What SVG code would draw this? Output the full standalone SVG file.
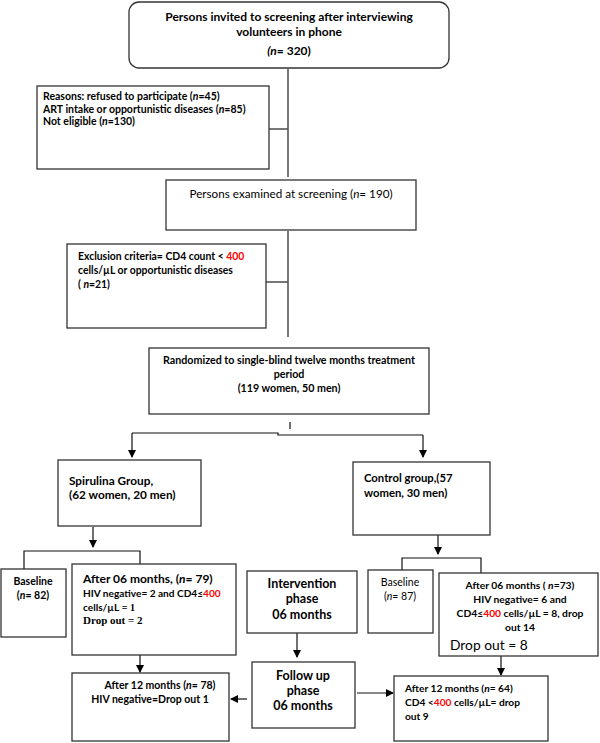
<svg xmlns="http://www.w3.org/2000/svg" width="600" height="743" viewBox="0 0 600 743">
<defs>
<marker id="ah" markerWidth="8" markerHeight="8" refX="7" refY="4" orient="auto" markerUnits="userSpaceOnUse">
<path d="M0,0 L8,4 L0,8 Z" fill="#000"/>
</marker>
</defs>
<style>
.box{fill:#fff;stroke:#333;stroke-width:1.3}
.ln{fill:none;stroke:#111;stroke-width:1.2}
.gl{fill:none;stroke:#555;stroke-width:1.6}
text{font-family:Lato,"Liberation Sans",sans-serif;fill:#000}
.b{font-weight:bold}
.r{font-weight:normal}
.i{font-style:italic}
.red{fill:#ff0000}
.c{text-anchor:middle}
.serif{font-family:"Liberation Serif",serif}
</style>
<rect width="600" height="743" fill="#fff"/>

<g id="connectors">
<path class="gl" d="M288,69 V177"/>
<path class="gl" d="M269,129 H288"/>
<path class="gl" d="M288,231 V337"/>
<path class="gl" d="M266,282 H288"/>
<path class="ln" d="M290,422 V429"/>
<path class="ln" d="M132,433 H278 V435 H423"/>
<path class="ln" d="M132,433 V457" marker-end="url(#ah)"/>
<path class="ln" d="M423,435 V457" marker-end="url(#ah)"/>
<path class="ln" d="M93,527 V547" marker-end="url(#ah)"/>
<path class="ln" d="M24,569 V551 H140 V564"/>
<path class="ln" d="M438,535 V554" marker-end="url(#ah)"/>
<path class="ln" d="M402,570 V558 H481 V573"/>
<path class="ln" d="M140,655 V672" marker-end="url(#ah)"/>
<path class="ln" d="M297,633 V657" marker-end="url(#ah)"/>
<path class="ln" d="M247,699 H231" marker-end="url(#ah)"/>
<path class="ln" d="M357,693 H393" marker-end="url(#ah)"/>
<path class="ln" d="M501,656 V675" marker-end="url(#ah)"/>
</g>

<g id="invited">
<rect class="box" x="129" y="2" width="320" height="66" rx="10"/>
<text class="b c" x="289" y="21" font-size="12">Persons invited to screening after interviewing</text>
<text class="b c" x="289" y="36" font-size="12">volunteers in phone</text>
<text class="b c" x="289" y="55" font-size="12"><tspan class="i">(n</tspan>= 320)</text>
</g>

<g id="reasons">
<rect class="box" x="37" y="86" width="232" height="83"/>
<text class="b" x="43" y="100" font-size="10.5">Reasons: refused to participate (<tspan class="i">n</tspan>=45)</text>
<text class="b" x="43" y="112.5" font-size="10.5">ART intake or opportunistic diseases (<tspan class="i">n</tspan>=85)</text>
<text class="b" x="43" y="125" font-size="10.5">Not eligible (<tspan class="i">n</tspan>=130)</text>
</g>

<g id="screening">
<rect class="box" x="166" y="180" width="250" height="50"/>
<text class="r c" x="291" y="198" font-size="11.7">Persons examined at screening (<tspan class="i">n</tspan>= 190)</text>
</g>

<g id="exclusion">
<rect class="box" x="67" y="244" width="199" height="84"/>
<text class="b" x="78" y="260" font-size="10.4">Exclusion criteria= CD4 count &lt; <tspan class="red">400</tspan></text>
<text class="b" x="78" y="274" font-size="10.4">cells/µL or opportunistic diseases</text>
<text class="b" x="78" y="288" font-size="10.4">( <tspan class="i">n</tspan>=21)</text>
</g>

<g id="randomized">
<rect class="box" x="149" y="348" width="280" height="66"/>
<text class="b c" x="289" y="364" font-size="10.7">Randomized to single-blind twelve months treatment</text>
<text class="b c" x="289" y="378" font-size="10.7">period</text>
<text class="b c" x="289" y="392" font-size="10.7">(119 women, 50 men)</text>
</g>

<g id="spirulina">
<rect class="box" x="58" y="460" width="143" height="66"/>
<text class="b" x="69" y="485" font-size="11.8">Spirulina Group,</text>
<text class="b" x="69" y="499" font-size="11.8">(62 women, 20 men)</text>
</g>

<g id="control">
<rect class="box" x="353" y="462" width="137" height="73"/>
<text class="b" x="364" y="482" font-size="11.3">Control group,(57</text>
<text class="b" x="364" y="497" font-size="11.3">women, 30 men)</text>
</g>

<g id="baseline-s">
<rect class="box" x="1" y="569" width="65" height="68"/>
<text class="b c" x="33" y="585" font-size="10.5">Baseline</text>
<text class="b c" x="33" y="599" font-size="10.5">(<tspan class="i">n</tspan>= 82)</text>
</g>

<g id="after06-s">
<rect class="box" x="72" y="564" width="164" height="91"/>
<text class="b" x="83" y="583" font-size="12">After 06 months, (<tspan class="i">n</tspan>= 79)</text>
<text class="b" x="83" y="597" font-size="10.1">HIV negative= 2 and CD4≤<tspan class="red">400</tspan></text>
<text class="b" x="83" y="611" font-size="10.1">cells/µL<tspan class="serif"> = 1</tspan></text>
<text class="b serif" x="83" y="624" font-size="11">Drop out = 2</text>
</g>

<g id="after12-s">
<rect class="box" x="72" y="673" width="157" height="68"/>
<text class="b c" x="160" y="689" font-size="10.5">After 12 months (<tspan class="i">n</tspan>= 78)</text>
<text class="b c" x="150" y="703" font-size="10.5">HIV negative=Drop out 1</text>
</g>

<g id="intervention">
<rect class="box" x="247" y="571" width="110" height="62"/>
<text class="b c" x="302" y="588" font-size="12.5">Intervention</text>
<text class="b c" x="302" y="603" font-size="12.5">phase</text>
<text class="b c" x="302" y="619" font-size="12.5">06 months</text>
</g>

<g id="followup">
<rect class="box" x="252" y="662" width="103" height="66"/>
<text class="b c" x="303" y="680" font-size="12.5">Follow up</text>
<text class="b c" x="303" y="695" font-size="12.5">phase</text>
<text class="b c" x="303" y="710" font-size="12.5">06 months</text>
</g>

<g id="baseline-c">
<rect class="box" x="368" y="570" width="65" height="63"/>
<text class="r c" x="400" y="586" font-size="10.5" fill="#333">Baseline</text>
<text class="r c" x="400" y="600" font-size="10.5" fill="#333">(<tspan class="i">n</tspan>= 87)</text>
</g>

<g id="after06-c">
<rect class="box" x="439" y="573" width="159" height="83"/>
<text class="b c" x="520" y="589" font-size="10.3">After 06 months ( <tspan class="i">n</tspan>=73)</text>
<text class="b c" x="520" y="603" font-size="10.3">HIV negative= 6 and</text>
<text class="b c" x="520" y="617" font-size="10.3">CD4≤<tspan class="red">400</tspan> cells/µL = 8, drop</text>
<text class="b c" x="520" y="631" font-size="10.3">out 14</text>
<text class="r" x="450" y="650" font-size="13.8">Drop out = 8</text>
</g>

<g id="after12-c">
<rect class="box" x="394" y="676" width="154" height="65"/>
<text class="b" x="405" y="692" font-size="10.2">After 12 months (<tspan class="i">n</tspan>= 64)</text>
<text class="b" x="405" y="706" font-size="10.2">CD4 &lt;<tspan class="red">400</tspan> cells/µL= drop</text>
<text class="b" x="405" y="720" font-size="10.2">out 9</text>
</g>
</svg>
